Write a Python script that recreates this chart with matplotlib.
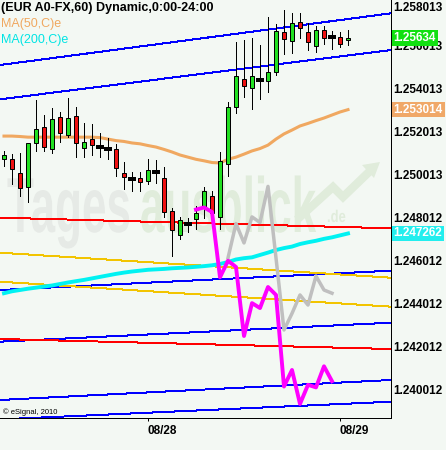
import matplotlib
matplotlib.use("Agg")
import matplotlib.pyplot as plt
import matplotlib.transforms as mtransforms
from matplotlib.patches import Rectangle, PathPatch, Polygon
from matplotlib.textpath import TextPath
from matplotlib.font_manager import FontProperties

plt.rcParams['font.family'] = ['Liberation Sans', 'DejaVu Sans']

# hourly candles (EUR A0-FX, 60 min)
opens = [1.25073, 1.25072, 1.25006, 1.24944, 1.25146, 1.25220, 1.25118, 1.25266, 1.25182, 1.25271,
         1.25122, 1.25164, 1.25126, 1.25118, 1.25118, 1.25006, 1.24981, 1.24985, 1.24969, 1.25012,
         1.24985, 1.24830, 1.24718, 1.24772, 1.24792, 1.24843, 1.24900, 1.24804, 1.25048, 1.25313,
         1.25443, 1.25402, 1.25440, 1.25434, 1.25476, 1.25662, 1.25620, 1.25708, 1.25662, 1.25596,
         1.25671, 1.25639, 1.25639, 1.25624]
highs = [1.25111, 1.25095, 1.25099, 1.25146, 1.25347, 1.25277, 1.25308, 1.25293, 1.25355, 1.25316,
         1.25239, 1.25236, 1.25192, 1.25168, 1.25141, 1.25060, 1.25010, 1.25013, 1.25072, 1.25068,
         1.25034, 1.24846, 1.24804, 1.24798, 1.24852, 1.24941, 1.24925, 1.25105, 1.25337, 1.25616,
         1.25626, 1.25634, 1.25602, 1.25732, 1.25700, 1.25766, 1.25750, 1.25750, 1.25706, 1.25691,
         1.25691, 1.25668, 1.25663, 1.25671]
lows = [1.25040, 1.24956, 1.24901, 1.24874, 1.25110, 1.25110, 1.25102, 1.25153, 1.25176, 1.25083,
        1.25083, 1.25091, 1.25083, 1.25072, 1.24993, 1.24931, 1.24923, 1.24925, 1.24958, 1.24962,
        1.24804, 1.24623, 1.24701, 1.24732, 1.24747, 1.24800, 1.24757, 1.24745, 1.24994, 1.25285,
        1.25362, 1.25304, 1.25353, 1.25383, 1.25465, 1.25561, 1.25564, 1.25637, 1.25581, 1.25572,
        1.25606, 1.25583, 1.25594, 1.25602]
closes = [1.25089, 1.25024, 1.24936, 1.25146, 1.25211, 1.25127, 1.25257, 1.25192, 1.25261, 1.25146,
          1.25152, 1.25136, 1.25126, 1.25118, 1.25032, 1.24990, 1.24981, 1.24966, 1.25021, 1.25012,
          1.24827, 1.24740, 1.24788, 1.24772, 1.24819, 1.24923, 1.24819, 1.25062, 1.25315, 1.25457,
          1.25412, 1.25457, 1.25440, 1.25477, 1.25668, 1.25629, 1.25706, 1.25683, 1.25615, 1.25671,
          1.25637, 1.25639, 1.25606, 1.25634]

ma50 = [1.25179, 1.25179, 1.25177, 1.25174, 1.25174, 1.25174, 1.25174, 1.25174, 1.25174, 1.25174,
        1.25174, 1.25174, 1.25172, 1.25165, 1.25158, 1.25154, 1.25147, 1.25143, 1.25135, 1.25128,
        1.25117, 1.25105, 1.25091, 1.25081, 1.25071, 1.25064, 1.25056, 1.25054, 1.25071, 1.25081,
        1.25095, 1.25110, 1.25121, 1.25137, 1.25165, 1.25189, 1.25207, 1.25226, 1.25238, 1.25251,
        1.25263, 1.25277, 1.25291, 1.25302]
ma200 = [1.24448, 1.24457, 1.24463, 1.24469, 1.24474, 1.24479, 1.24484, 1.24491, 1.24498, 1.24504,
         1.24510, 1.24517, 1.24524, 1.24531, 1.24538, 1.24544, 1.24549, 1.24553, 1.24557, 1.24559,
         1.24561, 1.24564, 1.24566, 1.24568, 1.24571, 1.24574, 1.24578, 1.24584, 1.24593, 1.24605,
         1.24611, 1.24615, 1.24626, 1.24637, 1.24649, 1.24658, 1.24665, 1.24677, 1.24685, 1.24692,
         1.24701, 1.24708, 1.24717, 1.24726]

# projections (pattern lines)
magenta_start = 24
magenta = [1.24837, 1.24847, 1.24826, 1.24522, 1.24599, 1.24570, 1.24249, 1.24402, 1.24379, 1.24477,
           1.24440, 1.24014, 1.24091, 1.23933, 1.24022, 1.24010, 1.24108, 1.24039]
gray_start = 28
gray = [1.24612, 1.24772, 1.24682, 1.24803, 1.24777, 1.24945, 1.24612, 1.24277, 1.24354, 1.24440,
        1.24393, 1.24528, 1.24463, 1.24448]

# trend lines: price at left edge, price at right edge
blue_lines = [(1.255096, 1.257501), (1.253501, 1.255794), (1.244630, 1.245528),
              (1.242226, 1.243109), (1.239514, 1.240444), (1.238611, 1.239434)]
red_lines = [(1.247994, 1.247500), (1.242351, 1.241886)]
yellow_lines = [(1.246365, 1.245202), (1.245016, 1.243854)]

ytick_vals = [1.240012, 1.242012, 1.244012, 1.246012, 1.248012,
              1.250013, 1.252013, 1.254013, 1.256013, 1.258013]
xtick_pos = [18, 42]
xtick_labels = ['08/28', '08/29']
last_labels = ['1.25634', '1.253014', '1.247262']

W, H = 446, 450
BG = '#f3f8f3'
GREEN = '#22e022'
RED = '#ee1111'
PX = 0.72  # one pixel line

fig = plt.figure(figsize=(W / 100, H / 100), dpi=100, facecolor=BG)
ax = fig.add_axes([0, 32 / H, 391 / W, 418 / H])
ax.set_facecolor(BG)
x_left, x_right = -0.5, 48.375

# watermark, pixel coordinates
fp = FontProperties(family='Liberation Sans', weight='bold')
pix = mtransforms.IdentityTransform()
for word, px, col in [('Tages', 7, '#e6eae6'), ('ausblick', 140, '#e0ecdb')]:
    tp = TextPath((0, 0), word, size=100, prop=fp)
    tr = mtransforms.Affine2D().scale(0.44, 0.78).translate(px, H - 232) + pix
    ax.add_patch(PathPatch(tp, transform=tr, fc=col, ec='none', zorder=0.5))
tp = TextPath((0, 0), '.de', size=100, prop=fp)
tr = mtransforms.Affine2D().scale(0.13, 0.17).translate(327, H - 222) + pix
ax.add_patch(PathPatch(tp, transform=tr, fc='#e0ecdb', ec='none', zorder=0.5))
ax.plot([300, 333, 343, 370], [H - 217, H - 187, H - 197, H - 171], transform=pix,
        color='#e0ecdb', lw=6, solid_joinstyle='miter', zorder=0.5)
ax.add_patch(Polygon([[380, H - 162], [362, H - 165], [374, H - 178]], closed=True,
                     transform=pix, fc='#e0ecdb', ec='none', zorder=0.5))

# trend lines
for lines, col in [(blue_lines, '#0000ff'), (red_lines, '#ff0000'), (yellow_lines, '#f2c400')]:
    for a, b in lines:
        ax.plot([x_left, x_right], [a, b], color=col, lw=PX, antialiased=False, zorder=1)

idx = list(range(len(opens)))
ax.plot(idx, ma50, color='#f0a860', lw=2.2, zorder=2)
ax.plot(idx, ma200, color='#00f2f2', lw=2.8, zorder=2)

# candles
for i, (o, h, l, c) in enumerate(zip(opens, highs, lows, closes)):
    ax.plot([i, i], [l, h], color='black', lw=PX, antialiased=False, zorder=3)
    if o == c:
        ax.plot([i - 0.3, i + 0.3], [o, o], color='black', lw=1.5, antialiased=False, zorder=4)
    else:
        ax.add_patch(Rectangle((i - 0.28, min(o, c)), 0.56, abs(c - o),
                               fc=GREEN if c > o else RED, ec='black', lw=PX, zorder=4))

ax.plot(range(gray_start, gray_start + len(gray)), gray, color='#bfbfbf', lw=2.5, zorder=5)
ax.plot(range(magenta_start, magenta_start + len(magenta)), magenta, color='#ff00ff', lw=2.8, zorder=5)

ax.set_xlim(x_left, x_right)
ax.set_ylim(1.238676, 1.25812)

for s in ['left', 'top']:
    ax.spines[s].set_visible(False)
for s in ['right', 'bottom']:
    ax.spines[s].set_color('black')
    ax.spines[s].set_linewidth(PX)

ax.yaxis.tick_right()
ax.set_yticks(ytick_vals)
ax.set_yticklabels(['%.6f' % v for v in ytick_vals])
ax.tick_params(axis='y', length=0, pad=1.5, labelsize=8.5)
ax.set_xticks(xtick_pos)
ax.set_xticklabels(xtick_labels, ha='left')
ax.tick_params(axis='x', length=2, width=PX, pad=3, labelsize=8.5)
for lab in ax.get_yticklabels() + ax.get_xticklabels():
    lab.set_fontweight('bold')
# top label is pushed down inside the chart
top = ax.get_yticklabels()[-1]
top.set_transform(top.get_transform() + mtransforms.ScaledTranslation(0, -0.044, fig.dpi_scale_trans))

# last value boxes
for txt, val, col in [(last_labels[0], closes[-1], '#11e011'),
                      (last_labels[1], ma50[-1], '#f0a868'),
                      (last_labels[2], ma200[-1], '#22eeee')]:
    ax.annotate(txt, xy=(1, val), xycoords=ax.get_yaxis_transform(), xytext=(2.5, 0),
                textcoords='offset pixels', ha='left', va='center', color='white',
                fontsize=8.5, fontweight='bold', annotation_clip=False, zorder=6,
                bbox=dict(boxstyle='square,pad=0.15', fc=col, ec='none'))

fig.text(1 / W, 1 - 8 / H, '(EUR A0-FX,60) Dynamic,0:00-24:00', fontsize=9,
         fontweight='bold', ha='left', va='center', color='black')
fig.text(1 / W, 1 - 24 / H, 'MA(50,C)e', fontsize=9, ha='left', va='center', color='#f0a860')
fig.text(1 / W, 1 - 40 / H, 'MA(200,C)e', fontsize=9, ha='left', va='center', color='#00e4e4')
fig.text(3 / W, 1 - 412 / H, '\u00a9 eSignal, 2010', fontsize=5.5, ha='left', va='center',
         color='black')

fig.savefig('out.png', dpi=100, facecolor=BG)
